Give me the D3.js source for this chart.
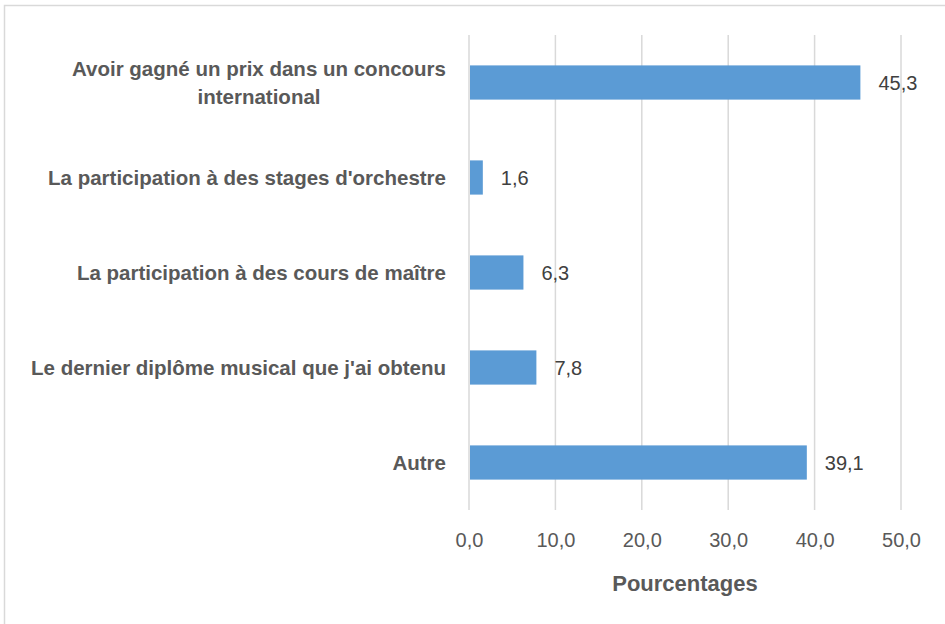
<!DOCTYPE html>
<html>
<head>
<meta charset="utf-8">
<script src="https://cdn.jsdelivr.net/npm/d3@7"></script>
<style>
  body { margin: 0; background: #fff; }
  text { font-family: "Liberation Sans", Arial, sans-serif; }
</style>
</head>
<body>
<div id="chart"></div>
<script>
// Chart data
var categories = [
  ["Avoir gagné un prix dans un concours", "international"],
  ["La participation à des stages d'orchestre"],
  ["La participation à des cours de maître"],
  ["Le dernier diplôme musical que j'ai obtenu"],
  ["Autre"]
];
var values = [45.3, 1.6, 6.3, 7.8, 39.1];
var ticks = [0, 10, 20, 30, 40, 50];
var axisTitle = "Pourcentages";

var svgWidth = 945;
var svgHeight = 624;
var margin = { top: 35, right: 44, bottom: 114, left: 469 };
var width = svgWidth - margin.left - margin.right;
var height = svgHeight - margin.top - margin.bottom;

var fmt = function(v) { return d3.format(".1f")(v).replace(".", ","); };

var svg = d3.select("#chart")
    .append("svg")
    .attr("width", svgWidth)
    .attr("height", svgHeight);

// chart border (only top/left visible in the frame)
svg.append("rect")
    .attr("x", 4.5)
    .attr("y", 5.5)
    .attr("width", svgWidth + 10)
    .attr("height", svgHeight + 10)
    .attr("fill", "none")
    .attr("stroke", "#d9d9d9")
    .attr("stroke-width", 1.5);

var chartGroup = svg.append("g")
    .attr("transform", `translate(${margin.left}, ${margin.top})`);

var xScale = d3.scaleLinear()
    .domain([0, 50])
    .range([0, width]);

var yScale = d3.scaleBand()
    .domain(d3.range(categories.length))
    .range([0, height])
    .paddingInner(0.64)
    .paddingOuter(0.32);

// vertical gridlines
chartGroup.selectAll("line.grid")
    .data(ticks)
    .enter()
    .append("line")
    .attr("class", "grid")
    .attr("x1", d => xScale(d))
    .attr("x2", d => xScale(d))
    .attr("y1", 0)
    .attr("y2", height)
    .attr("stroke", "#d9d9d9")
    .attr("stroke-width", 1.5);

// x axis tick labels
var bottomAxis = d3.axisBottom(xScale)
    .tickValues(ticks)
    .tickFormat(fmt)
    .tickSize(0)
    .tickPadding(23);

var xAxis = chartGroup.append("g")
    .attr("transform", `translate(0, ${height})`)
    .call(bottomAxis);
xAxis.select(".domain").remove();
xAxis.selectAll("text")
    .style("font-family", "Liberation Sans, Arial, sans-serif")
    .style("font-size", "20px")
    .attr("fill", "#595959");

// bars
chartGroup.selectAll("rect.bar")
    .data(values)
    .enter()
    .append("rect")
    .attr("class", "bar")
    .attr("x", xScale(0) + 1)
    .attr("y", (d, i) => yScale(i))
    .attr("width", d => xScale(d) - xScale(0) - 1)
    .attr("height", yScale.bandwidth())
    .attr("fill", "#5b9bd5");

// value labels
chartGroup.selectAll("text.value")
    .data(values)
    .enter()
    .append("text")
    .attr("class", "value")
    .attr("x", d => xScale(d) + 18)
    .attr("y", (d, i) => yScale(i) + yScale.bandwidth() / 2)
    .attr("dy", "0.36em")
    .style("font-size", "20px")
    .attr("fill", "#404040")
    .text(fmt);

// category labels
var labels = chartGroup.selectAll("text.cat")
    .data(categories)
    .enter()
    .append("text")
    .attr("class", "cat")
    .attr("y", (d, i) => yScale(i) + yScale.bandwidth() / 2)
    .style("font-size", "20.5px")
    .style("font-weight", "bold")
    .attr("fill", "#595959");

labels.each(function(lines) {
    var t = d3.select(this);
    var lineH = 28;
    var startDy = -(lines.length - 1) * lineH / 2;
    lines.forEach(function(s, j) {
        t.append("tspan")
            .attr("dy", j === 0 ? startDy + 7 : lineH)
            .text(s);
    });
    // right edge of the block at -23, lines centred on each other
    var widths = [];
    t.selectAll("tspan").each(function() { widths.push(this.getComputedTextLength()); });
    var maxW = d3.max(widths);
    var cx = -23 - maxW / 2;
    t.selectAll("tspan")
        .attr("x", cx)
        .attr("text-anchor", "middle");
});

// x axis title
chartGroup.append("text")
    .attr("x", width / 2)
    .attr("y", height + 81)
    .attr("text-anchor", "middle")
    .style("font-size", "22px")
    .style("font-weight", "bold")
    .attr("fill", "#595959")
    .text(axisTitle);
</script>
</body>
</html>
